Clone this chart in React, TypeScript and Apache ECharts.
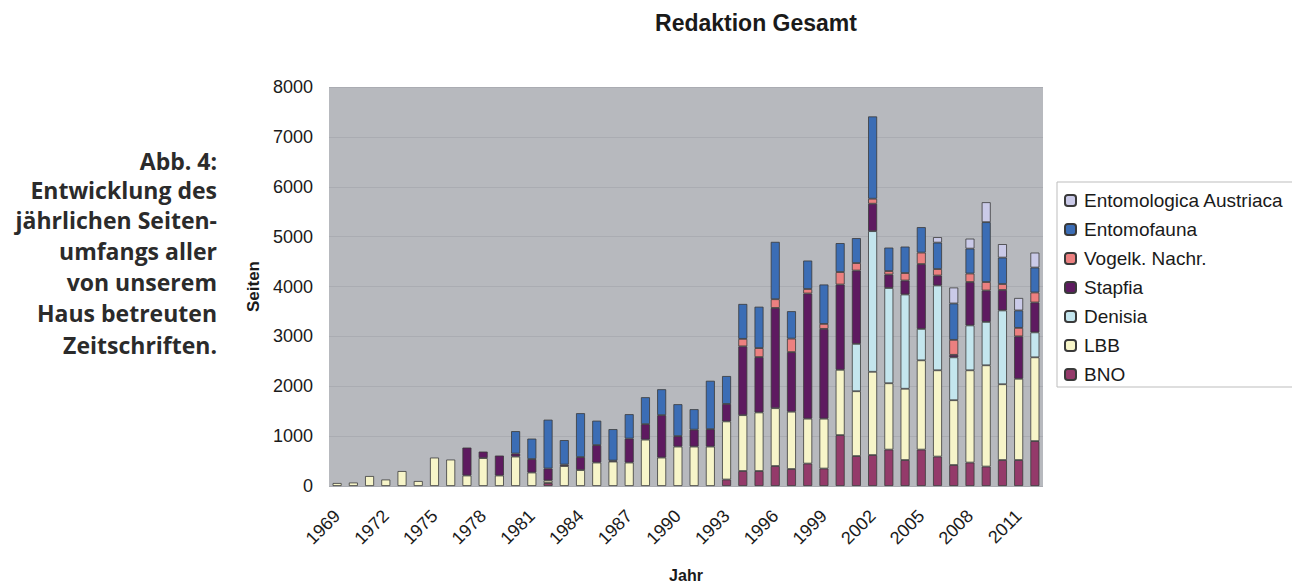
import React, { useEffect, useRef } from "react";
import * as echarts from "echarts";

const years = [
  "1969", "1970", "1971", "1972", "1973", "1974", "1975", "1976", "1977", "1978",
  "1979", "1980", "1981", "1982", "1983", "1984", "1985", "1986", "1987", "1988",
  "1989", "1990", "1991", "1992", "1993", "1994", "1995", "1996", "1997", "1998",
  "1999", "2000", "2001", "2002", "2003", "2004", "2005", "2006", "2007", "2008",
  "2009", "2010", "2011", "2012",
];

const bno = [
  0, 0, 0, 0, 0, 0, 0, 0, 0, 0,
  0, 0, 0, 60, 0, 0, 0, 0, 0, 0,
  0, 0, 0, 0, 130, 300, 300, 400, 340, 450,
  350, 1020, 600, 620, 730, 520, 730, 590, 420, 470,
  390, 520, 520, 900,
];
const lbb = [
  60, 70, 200, 130, 300, 100, 570, 530, 210, 560,
  210, 590, 270, 50, 400, 320, 470, 490, 470, 930,
  570, 790, 790, 790, 1165, 1120, 1175, 1160, 1150, 900,
  1000, 1310, 1300, 1670, 1330, 1430, 1790, 1730, 1300, 1850,
  2030, 1520, 1630, 1680,
];
const denisia = [
  0, 0, 0, 0, 0, 0, 0, 0, 0, 0,
  0, 0, 0, 0, 0, 0, 0, 0, 0, 0,
  0, 0, 0, 0, 0, 0, 0, 0, 0, 0,
  0, 0, 950, 2820, 1910, 1890, 630, 1700, 860, 900,
  870, 1480, 0, 500,
];
const stapfia = [
  0, 0, 0, 0, 0, 0, 0, 0, 560, 130,
  400, 60, 270, 240, 30, 260, 350, 20, 480, 310,
  850, 210, 340, 350, 350, 1380, 1110, 2010, 1195, 2510,
  1800, 1710, 1470, 550, 270, 280, 1300, 200, 50, 870,
  630, 410, 850, 600,
];
const vogelk = [
  0, 0, 0, 0, 0, 0, 0, 0, 0, 0,
  0, 0, 0, 0, 0, 0, 0, 0, 0, 0,
  0, 0, 0, 0, 0, 150, 180, 175, 270, 90,
  100, 250, 150, 100, 70, 150, 230, 130, 300, 170,
  170, 120, 170, 200,
];
const entomofauna = [
  0, 0, 0, 0, 0, 0, 0, 0, 0, 0,
  0, 450, 410, 980, 490, 880, 490, 630, 490, 540,
  520, 640, 410, 970, 560, 700, 830, 1150, 550, 570,
  790, 580, 500, 1650, 470, 530, 510, 530, 730, 500,
  1200, 530, 350, 500,
];
const entAustriaca = [
  0, 0, 0, 0, 0, 0, 0, 0, 0, 0,
  0, 0, 0, 0, 0, 0, 0, 0, 0, 0,
  0, 0, 0, 0, 0, 0, 0, 0, 0, 0,
  0, 0, 0, 0, 0, 0, 0, 110, 320, 200,
  400, 270, 250, 300,
];

const seriesDefs = [
  { name: "BNO", data: bno, color: "#943a6a" },
  { name: "LBB", data: lbb, color: "#f7f5c9" },
  { name: "Denisia", data: denisia, color: "#c4e6ee" },
  { name: "Stapfia", data: stapfia, color: "#5e1a60" },
  { name: "Vogelk. Nachr.", data: vogelk, color: "#ec8080" },
  { name: "Entomofauna", data: entomofauna, color: "#3b6db5" },
  { name: "Entomologica Austriaca", data: entAustriaca, color: "#cacae8" },
];

const yTicks = [0, 1000, 2000, 3000, 4000, 5000, 6000, 7000, 8000];

const captionLines = [
  "Abb. 4:",
  "Entwicklung des",
  "jährlichen Seiten-",
  "umfangs aller",
  "von unserem",
  "Haus betreuten",
  "Zeitschriften.",
];

const FONT = '"Liberation Sans", Arial, sans-serif';

export default function App() {
  const ref = useRef<HTMLDivElement>(null);

  useEffect(() => {
    if (!ref.current) return;
    const chart = echarts.init(ref.current, null, { renderer: "svg" });
    const captionY = [161, 190, 220, 251, 282, 313, 345];
    chart.setOption({
      animation: false,
      backgroundColor: "#ffffff",
      textStyle: { fontFamily: FONT },
      grid: {
        left: 329,
        top: 87,
        width: 714,
        height: 399,
        containLabel: false,
        outerBoundsMode: "none",
        show: true,
        backgroundColor: "#b7b9be",
        borderWidth: 0,
      },
      legend: {
        orient: "vertical",
        left: 1064,
        top: 191,
        padding: 0,
        itemWidth: 11,
        itemHeight: 11,
        itemGap: 10,
        data: seriesDefs.map((s) => s.name).reverse(),
        textStyle: {
          fontFamily: FONT,
          fontSize: 19,
          lineHeight: 19,
          color: "#1a1a1a",
          padding: [0, 0, 0, 3],
        },
      },
      xAxis: {
        type: "category",
        data: years,
        name: "Jahr",
        nameLocation: "middle",
        nameGap: 81,
        nameTextStyle: { fontFamily: FONT, fontSize: 16, fontWeight: "bold", color: "#1a1a1a" },
        axisLine: { show: false },
        axisTick: { show: false },
        axisLabel: {
          interval: 2,
          rotate: 45,
          margin: 27,
          fontFamily: FONT,
          fontSize: 18,
          color: "#1a1a1a",
        },
      },
      yAxis: {
        type: "value",
        min: yTicks[0],
        max: yTicks[yTicks.length - 1],
        interval: 1000,
        name: "Seiten",
        nameLocation: "middle",
        nameRotate: 90,
        nameGap: 58,
        nameTextStyle: { fontFamily: FONT, fontSize: 17, fontWeight: "bold", color: "#1a1a1a" },
        axisLine: { show: false },
        axisTick: { show: false },
        axisLabel: {
          margin: 16,
          fontFamily: FONT,
          fontSize: 18,
          color: "#1a1a1a",
          formatter: (v: number) => String(v),
        },
        splitLine: { lineStyle: { color: "#aaacb2", width: 1 } },
      },
      series: seriesDefs.map((s) => ({
        name: s.name,
        type: "bar",
        stack: "total",
        barWidth: 9,
        data: s.data.map((v) => (v === 0 ? "-" : v)),
        itemStyle: { color: s.color, borderColor: "#3a3a3a", borderWidth: 0.8 },
      })),
      graphic: [
        {
          type: "text",
          x: 756,
          y: 23,
          style: {
            text: "Redaktion Gesamt",
            font: `bold 23px ${FONT}`,
            fill: "#1a1a1a",
            align: "center",
            verticalAlign: "middle",
          },
        },
        {
          type: "rect",
          shape: { x: 1057, y: 182, width: 260, height: 205 },
          style: { fill: "none", stroke: "#bdbdbd", lineWidth: 1 },
          z: -1,
        },
        ...captionLines.map((t, i) => ({
          type: "text",
          x: 217,
          y: captionY[i],
          style: {
            text: t,
            font: 'bold 23px "Open Sans", "Noto Sans", sans-serif',
            fill: "#2b2b2b",
            align: "right",
            verticalAlign: "middle",
          },
        })),
      ],
    });
    return () => chart.dispose();
  }, []);

  return (
    <div
      ref={ref}
      style={{ position: "absolute", left: 0, top: 0, width: 1292, height: 584 }}
    />
  );
}
